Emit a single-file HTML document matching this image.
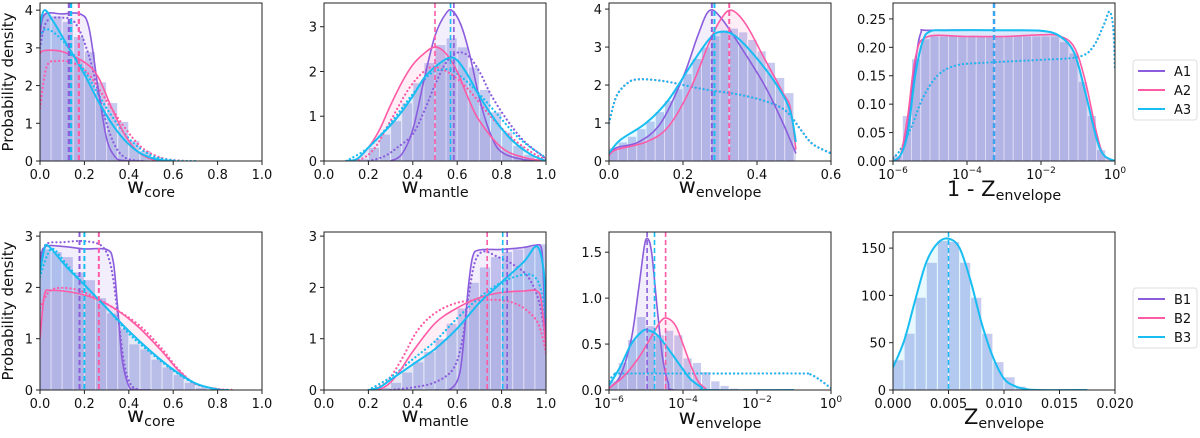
<!DOCTYPE html>
<html><head><meta charset="utf-8">
<style>
html,body{margin:0;padding:0;background:#fff;}
svg{display:block;font-family:"DejaVu Sans","Liberation Sans",sans-serif;}
</style></head>
<body>
<svg id="fig" width="1200" height="438" viewBox="0 0 1200 438" xmlns="http://www.w3.org/2000/svg"></svg>
<script>
// ---------- DATA ----------
const pA1_hist = [3.9,3.85,3.7,3.3,2.9,2.1,1.55,1.05,0.55,0.28,0.12,0.05,0.02];
const pA1_a1 = [[0,3.3],[0.02,3.88],[0.1,3.9],[0.18,3.9],[0.22,3.55],[0.26,2.0],[0.3,0.6],[0.34,0.1],[0.38,0.01],[0.47,0]];
const pA1_a1d = [[0,3.0],[0.03,3.7],[0.1,3.8],[0.16,3.65],[0.22,2.8],[0.28,1.4],[0.33,0.5],[0.38,0.1],[0.45,0]];
const pA1_a2 = [[0,2.85],[0.02,2.93],[0.1,2.9],[0.2,2.62],[0.26,2.25],[0.32,1.45],[0.38,0.72],[0.44,0.25],[0.5,0.05],[0.56,0]];
const pA1_a2d = [[0,1.4],[0.03,2.5],[0.08,2.65],[0.15,2.6],[0.22,2.3],[0.3,1.6],[0.38,0.9],[0.46,0.35],[0.55,0.08],[0.65,0]];
const pA1_a3 = [[0,3.6],[0.02,4.0],[0.06,3.7],[0.12,3.1],[0.2,2.3],[0.28,1.4],[0.36,0.7],[0.44,0.25],[0.52,0.05],[0.6,0]];
const pA1_a3d = [[0,3.3],[0.03,3.5],[0.1,3.2],[0.2,2.4],[0.3,1.4],[0.4,0.6],[0.5,0.15],[0.6,0.02],[0.7,0]];
const pA1_vl = [0.13,0.175,0.14];
const pA2_hist = [0,0,0,0.05,0.3,0.6,0.9,1.3,1.75,2.2,2.6,2.75,2.55,2.1,1.6,1.1,0.65,0.35,0.15,0.05];
const pA2_a1 = [[0.3,0],[0.35,0.15],[0.4,0.7],[0.45,1.8],[0.5,2.8],[0.55,3.3],[0.58,3.35],[0.62,3.0],[0.66,2.3],[0.7,1.4],[0.75,0.6],[0.8,0.2],[0.9,0.03],[1,0]];
const pA2_a1d = [[0.2,0],[0.27,0.1],[0.33,0.3],[0.4,0.6],[0.45,1.1],[0.5,1.7],[0.55,2.2],[0.6,2.42],[0.65,2.35],[0.7,2.0],[0.75,1.5],[0.82,0.95],[0.9,0.45],[1,0.05]];
const pA2_a2 = [[0.1,0],[0.15,0.05],[0.2,0.3],[0.25,0.7],[0.3,1.25],[0.35,1.75],[0.4,2.15],[0.45,2.4],[0.5,2.55],[0.55,2.4],[0.6,2.0],[0.65,1.4],[0.7,0.9],[0.8,0.3],[0.9,0.08],[1,0]];
const pA2_a2d = [[0.1,0],[0.17,0.05],[0.23,0.3],[0.3,0.9],[0.38,1.6],[0.45,2.0],[0.5,2.1],[0.57,1.95],[0.65,1.6],[0.75,1.0],[0.85,0.5],[0.95,0.15],[1,0.05]];
const pA2_a3 = [[0.1,0],[0.15,0.05],[0.2,0.3],[0.25,0.55],[0.3,0.8],[0.35,1.1],[0.4,1.45],[0.45,1.85],[0.5,2.1],[0.56,2.3],[0.6,2.25],[0.65,1.9],[0.7,1.45],[0.78,0.85],[0.85,0.45],[0.93,0.15],[1,0]];
const pA2_a3d = [[0.1,0],[0.2,0.3],[0.3,0.85],[0.4,1.5],[0.48,1.95],[0.55,2.05],[0.6,1.95],[0.68,1.6],[0.78,1.05],[0.88,0.5],[1,0.07]];
const pA2_vl = [0.585,0.5,0.57];
const pA3_hist = [0.35,0.5,0.65,0.85,1.05,1.3,1.6,1.9,2.3,2.7,3.0,3.3,3.45,3.5,3.4,3.2,2.9,2.6,2.2,1.8];
const pA3_a1 = [[0,0.15],[0.02,0.35],[0.08,0.5],[0.14,1.0],[0.2,2.2],[0.24,3.3],[0.27,3.95],[0.3,3.8],[0.35,3.1],[0.42,2.0],[0.47,1.0],[0.505,0.2]];
const pA3_a2 = [[0,0.15],[0.02,0.3],[0.1,0.5],[0.16,0.9],[0.22,1.9],[0.27,3.1],[0.3,3.7],[0.33,3.97],[0.37,3.6],[0.42,2.7],[0.47,1.8],[0.49,1.4],[0.505,0.3]];
const pA3_a3 = [[0,0.2],[0.03,0.55],[0.1,1.0],[0.16,1.6],[0.22,2.5],[0.27,3.2],[0.3,3.4],[0.34,3.3],[0.4,2.7],[0.46,1.9],[0.49,1.3],[0.505,0.5]];
const pA3_dot = [[0,1.0],[0.02,1.7],[0.05,2.05],[0.08,2.15],[0.15,2.1],[0.25,1.9],[0.35,1.75],[0.43,1.55],[0.48,1.3],[0.52,0.8],[0.55,0.45],[0.6,0.2]];
const pA3_vl = [0.278,0.325,0.285];
const pA4_hist = [0.01,0.08,0.18,0.215,0.22,0.22,0.22,0.22,0.22,0.22,0.22,0.22,0.22,0.22,0.22,0.22,0.22,0.22,0.21,0.19,0.14,0.08,0.02,0];
const pA4_a1 = [[-6,0],[-5.8,0.01],[-5.6,0.06],[-5.4,0.17],[-5.25,0.225],[-5,0.23],[-3,0.23],[-2,0.229],[-1.5,0.22],[-1.1,0.19],[-0.8,0.12],[-0.5,0.04],[-0.3,0.01],[0,0]];
const pA4_a2 = [[-6,0],[-5.8,0.01],[-5.6,0.08],[-5.4,0.18],[-5.1,0.218],[-4,0.219],[-3,0.219],[-2,0.222],[-1.5,0.22],[-1.1,0.2],[-0.8,0.14],[-0.5,0.05],[-0.3,0.01],[0,0]];
const pA4_a3 = [[-6,0],[-5.8,0.01],[-5.6,0.05],[-5.4,0.15],[-5.2,0.21],[-5,0.228],[-4.5,0.23],[-3,0.23],[-2,0.229],[-1.5,0.22],[-1.1,0.19],[-0.8,0.12],[-0.5,0.04],[-0.3,0.01],[0,0]];
const pA4_dot = [[-6,0.005],[-5.8,0.02],[-5.5,0.06],[-5.2,0.11],[-4.8,0.15],[-4.3,0.168],[-3.5,0.173],[-2,0.178],[-1,0.183],[-0.6,0.2],[-0.3,0.24],[-0.15,0.263],[-0.05,0.235],[0,0.16]];
const pA4_vl = [-3.27,-3.27,-3.27];
const pB1_hist = [2.75,2.7,2.6,2.3,2.15,1.8,1.5,1.2,0.9,0.8,0.6,0.45,0.3,0.15,0.05,0.02];
const pB1_b1 = [[0,2.4],[0.02,2.78],[0.1,2.8],[0.2,2.75],[0.3,2.74],[0.33,2.5],[0.35,1.6],[0.37,0.6],[0.4,0.08],[0.43,0.01],[0.5,0]];
const pB1_b1d = [[0,2.6],[0.03,2.85],[0.1,2.88],[0.2,2.9],[0.28,2.8],[0.32,2.4],[0.35,1.5],[0.38,0.5],[0.41,0.1],[0.45,0]];
const pB1_b2 = [[0,1.0],[0.02,1.85],[0.05,1.94],[0.15,1.9],[0.25,1.78],[0.35,1.55],[0.45,1.2],[0.55,0.75],[0.62,0.4],[0.7,0.12],[0.8,0.02],[0.85,0]];
const pB1_b2d = [[0,1.6],[0.05,1.95],[0.15,1.97],[0.25,1.8],[0.35,1.55],[0.45,1.25],[0.55,0.8],[0.62,0.42],[0.7,0.12],[0.8,0.02],[0.88,0]];
const pB1_b3 = [[0,2.3],[0.02,2.75],[0.04,2.8],[0.12,2.4],[0.2,2.05],[0.3,1.6],[0.4,1.15],[0.5,0.75],[0.6,0.4],[0.7,0.13],[0.8,0.01],[0.85,0]];
const pB1_b3d = [[0,2.2],[0.03,2.6],[0.06,2.75],[0.12,2.45],[0.2,2.05],[0.3,1.6],[0.4,1.1],[0.5,0.72],[0.6,0.38],[0.7,0.12],[0.8,0.01],[0.85,0]];
const pB1_vl = [0.178,0.265,0.2];
const pB2_hist = [0,0,0,0,0,0.05,0.15,0.35,0.55,0.75,1.0,1.3,1.6,2.1,2.4,2.6,2.7,2.75,2.8,2.85];
const pB2_b1 = [[0.5,0],[0.57,0.02],[0.61,0.3],[0.63,1.0],[0.65,2.0],[0.67,2.6],[0.7,2.73],[0.8,2.74],[0.9,2.78],[0.95,2.82],[0.98,2.75],[0.99,2.0],[1,0.9]];
const pB2_b1d = [[0.3,0],[0.4,0.05],[0.5,0.15],[0.58,0.4],[0.62,0.9],[0.65,1.8],[0.68,2.5],[0.72,2.7],[0.78,2.6],[0.85,2.45],[0.92,2.2],[0.97,1.7],[1,0.9]];
const pB2_b2 = [[0.2,0],[0.27,0.05],[0.33,0.3],[0.4,0.75],[0.5,1.3],[0.6,1.6],[0.7,1.8],[0.8,1.9],[0.9,1.93],[0.96,1.93],[0.98,1.7],[1,0.8]];
const pB2_b2d = [[0.2,0],[0.28,0.15],[0.35,0.6],[0.42,1.15],[0.5,1.5],[0.6,1.7],[0.7,1.75],[0.8,1.75],[0.88,1.65],[0.95,1.4],[0.98,1.1],[1,0.7]];
const pB2_b3 = [[0.2,0],[0.25,0.05],[0.3,0.2],[0.4,0.5],[0.5,0.8],[0.6,1.2],[0.7,1.7],[0.8,2.1],[0.9,2.5],[0.96,2.8],[0.99,2.3],[1,1.4]];
const pB2_b3d = [[0.2,0],[0.3,0.25],[0.4,0.6],[0.5,0.95],[0.6,1.4],[0.7,1.8],[0.8,2.1],[0.9,2.25],[0.95,2.2],[0.98,1.9],[1,1.2]];
const pB2_vl = [0.825,0.735,0.805];
const pB3_hist = [0.1,0.3,0.55,0.8,0.7,0.6,0.65,0.6,0.35,0.3,0.2,0.1,0.05,0.02];
const pB3_b1 = [[-6,0.02],[-5.7,0.15],[-5.4,0.55],[-5.2,1.1],[-5.05,1.55],[-4.96,1.65],[-4.85,1.5],[-4.7,0.9],[-4.55,0.35],[-4.4,0.08],[-4.25,0],[-3,0]];
const pB3_b2 = [[-6,0.02],[-5.6,0.15],[-5.2,0.35],[-4.9,0.55],[-4.6,0.75],[-4.42,0.78],[-4.2,0.7],[-4,0.5],[-3.8,0.28],[-3.6,0.1],[-3.4,0.02],[-3.2,0],[-1,0]];
const pB3_b3 = [[-6,0.05],[-5.7,0.25],[-5.4,0.5],[-5.1,0.64],[-4.94,0.65],[-4.7,0.6],[-4.4,0.45],[-4.1,0.28],[-3.8,0.12],[-3.5,0.03],[-3.3,0],[-1,0]];
const pB3_dot = [[-6,0.1],[-5.85,0.17],[-5.6,0.18],[-3,0.18],[-0.8,0.18],[-0.55,0.17],[-0.3,0.11],[-0.1,0.05],[0,0.02]];
const pB3_vl = [-4.97,-4.47,-4.77];
const pB4_hist = [32,60,98,135,158,157,135,98,60,30,14,4,1,0.5];
const pB4_curve = [[0,24],[0.001,52],[0.002,95],[0.003,135],[0.004,155],[0.005,160],[0.006,150],[0.007,115],[0.008,70],[0.009,35],[0.01,12],[0.011,4],[0.012,1],[0.013,0],[0.0175,0]];
const pB4_vl = [0.005];
const ticks01 = [0,0.2,0.4,0.6,0.8,1.0];
const ticksEnv = [0,0.2,0.4,0.6];
const ticksLog = [-6,-4,-2,0];
const ticksZ = [0,0.005,0.01,0.015,0.02];
const yT4 = [0,1,2,3,4], yT3 = [0,1,2,3], yTz = [0,0.05,0.10,0.15,0.20,0.25], yTb3=[0,0.5,1.0,1.5], yTb4=[0,50,100,150];

// ---------- DRAW ----------
const NS="http://www.w3.org/2000/svg";
const svg=document.getElementById('fig');
const C1='#8b5ddd', C2='#ff5aa5', C3='#18bdf2';
function mk(tag,at,parent){const e=document.createElementNS(NS,tag);for(const k in at)e.setAttribute(k,at[k]);(parent||svg).appendChild(e);return e;}
function smooth(pts){let d='M'+pts[0][0].toFixed(1)+','+pts[0][1].toFixed(1);
 for(let i=0;i<pts.length-1;i++){const p0=pts[Math.max(0,i-1)],p1=pts[i],p2=pts[i+1],p3=pts[Math.min(pts.length-1,i+2)];
  const c1=[p1[0]+(p2[0]-p0[0])/6,p1[1]+(p2[1]-p0[1])/6],c2=[p2[0]-(p3[0]-p1[0])/6,p2[1]-(p3[1]-p1[1])/6];
  d+=' C'+c1.map(v=>v.toFixed(1))+' '+c2.map(v=>v.toFixed(1))+' '+p2.map(v=>v.toFixed(1));}
 return d;}
function fmt(v,dec){return v.toFixed(dec);}

function panel(o){
 const g=mk('g',{});
 
 
 const X=v=>o.x+(v-o.xmin)/(o.xmax-o.xmin)*o.w;
 const Y=v=>o.y+o.h-Math.max(0,v)/o.ymax*o.h;
 const clip='c'+o.name; const cp=mk('clipPath',{id:clip},g); mk('rect',{x:o.x,y:o.y,width:o.w,height:o.h},cp);
 const inner=mk('g',{'clip-path':'url(#'+clip+')'},g);
 o.hist.forEach((h,i)=>{const x0=X(o.hx0+i*o.hw),x1=X(o.hx0+(i+1)*o.hw);
  const r=mk('rect',{x:x0,y:Y(h),width:Math.max(0,x1-x0),height:Y(0)-Y(h),fill:'#c7cbef',stroke:'#ffffff','stroke-width':1},inner);
  
  });
 (o.solid||[]).forEach(s=>{const pts=s.d.map(p=>[X(p[0]),Y(p[1])]);
  const f=mk('path',{d:smooth(pts)+' L'+pts[pts.length-1][0]+','+Y(0)+' L'+pts[0][0]+','+Y(0)+'Z',fill:s.c,'fill-opacity':0.1,stroke:'none'},inner);
  
  });
 (o.dotted||[]).forEach(s=>{const pts=s.d.map(p=>[X(p[0]),Y(p[1])]);
  const l=mk('path',{d:smooth(pts),fill:'none',stroke:s.c,'stroke-width':2.2,'stroke-dasharray':'0.1 4','stroke-linecap':'round'},inner);
  
  });
 (o.solid||[]).forEach(s=>{const pts=s.d.map(p=>[X(p[0]),Y(p[1])]);
  const l=mk('path',{d:smooth(pts),fill:'none',stroke:s.c,'stroke-width':s.sw||1.6},inner);
  
  });
 o.vl.forEach((v,i)=>{const l=mk('line',{x1:X(v),x2:X(v),y1:o.y,y2:o.y+o.h,stroke:o.vc[i],'stroke-width':o.vw||1.6,'stroke-dasharray':'5 3'},inner);
  
  });
 mk('rect',{x:o.x,y:o.y,width:o.w,height:o.h,fill:'none',stroke:'#222','stroke-width':1},g);
 o.xt.forEach(t=>{const x=X(t);mk('line',{x1:x,x2:x,y1:o.y+o.h,y2:o.y+o.h+4,stroke:'#222'},g);
  const tx=mk('text',{x:x,y:o.y+o.h+18,'font-size':13,'text-anchor':'middle',fill:'#111'},g);
  
  
  if(o.log){tx.textContent='10';const s=mk('tspan',{dy:-6,'font-size':9},tx);s.textContent=(t<0?'−':'')+Math.abs(t);}
  else tx.textContent=fmt(t,o.xd);});
 o.yt.forEach(t=>{const y=Y(t);mk('line',{x1:o.x-4,x2:o.x,y1:y,y2:y,stroke:'#222'},g);
  const tx=mk('text',{x:o.x-7,y:y+5,'font-size':13,'text-anchor':'end',fill:'#111'},g);
  
  
  tx.textContent=fmt(t,o.yd);});
 const xl=mk('text',{x:o.x+o.w/2,y:o.y+o.h+o.lab.dy,'font-size':o.lab.fs,'text-anchor':'middle',fill:'#111'},g);
 
 
 xl.appendChild(document.createTextNode(o.lab.main));
 const sb=mk('tspan',{dy:4,'font-size':o.lab.fs*0.68},xl); sb.textContent=o.lab.sub;
}
const X0=[40,324,609,893], W=222, R1=3, R2=232, H=158;
const vc3=[C1,C2,C3];
panel({name:'panel-a-core',x:X0[0],y:R1,w:W,h:H,xmin:0,xmax:1,ymax:4.19,hx0:0,hw:0.05,hist:pA1_hist,
 dotted:[{n:'a1',c:C1,d:pA1_a1d},{n:'a2',c:C2,d:pA1_a2d},{n:'a3',c:C3,d:pA1_a3d}],
 solid:[{n:'a1',c:C1,d:pA1_a1},{n:'a2',c:C2,d:pA1_a2},{n:'a3',c:C3,d:pA1_a3,sw:2}],
 vl:pA1_vl,vc:vc3,vw:2.2,xt:ticks01,xd:1,yt:yT4,yd:0,lab:{main:'w',sub:'core',fs:21,dy:32}});
panel({name:'panel-a-mantle',x:X0[1],y:R1,w:W,h:H,xmin:0,xmax:1,ymax:3.53,hx0:0,hw:0.05,hist:pA2_hist,
 dotted:[{n:'a1',c:C1,d:pA2_a1d},{n:'a2',c:C2,d:pA2_a2d},{n:'a3',c:C3,d:pA2_a3d}],
 solid:[{n:'a1',c:C1,d:pA2_a1},{n:'a2',c:C2,d:pA2_a2},{n:'a3',c:C3,d:pA2_a3,sw:2}],
 vl:pA2_vl,vc:vc3,xt:ticks01,xd:1,yt:yT3,yd:0,lab:{main:'w',sub:'mantle',fs:21,dy:32}});
panel({name:'panel-a-envelope',x:X0[2],y:R1,w:W,h:H,xmin:0,xmax:0.6,ymax:4.16,hx0:0,hw:0.025,hist:pA3_hist,
 dotted:[{n:'a1',c:C1,d:pA3_dot},{n:'a2',c:C2,d:pA3_dot},{n:'a3',c:C3,d:pA3_dot}],
 solid:[{n:'a1',c:C1,d:pA3_a1},{n:'a2',c:C2,d:pA3_a2},{n:'a3',c:C3,d:pA3_a3,sw:2}],
 vl:pA3_vl,vc:vc3,vw:2,xt:ticksEnv,xd:1,yt:yT4,yd:0,lab:{main:'w',sub:'envelope',fs:21,dy:32}});
panel({name:'panel-a-one-minus-z',x:X0[3],y:R1,w:W,h:H,xmin:-6,xmax:0,ymax:0.278,hx0:-6,hw:0.25,hist:pA4_hist,log:true,
 dotted:[{n:'a2',c:C2,d:pA4_dot},{n:'a3',c:C3,d:pA4_dot}],
 solid:[{n:'a1',c:C1,d:pA4_a1},{n:'a2',c:C2,d:pA4_a2},{n:'a3',c:C3,d:pA4_a3,sw:2}],
 vl:pA4_vl,vc:['#5f8ee8','#5f8ee8','#3aa4f0'],vw:2.2,xt:ticksLog,yt:yTz,yd:2,lab:{main:'1 - Z',sub:'envelope',fs:21,dy:35}});
panel({name:'panel-b-core',x:X0[0],y:R2,w:W,h:H,xmin:0,xmax:1,ymax:3.08,hx0:0,hw:0.05,hist:pB1_hist,
 dotted:[{n:'b1',c:C1,d:pB1_b1d},{n:'b2',c:C2,d:pB1_b2d},{n:'b3',c:C3,d:pB1_b3d}],
 solid:[{n:'b1',c:C1,d:pB1_b1},{n:'b2',c:C2,d:pB1_b2},{n:'b3',c:C3,d:pB1_b3,sw:2}],
 vl:pB1_vl,vc:vc3,vw:2,xt:ticks01,xd:1,yt:yT3,yd:0,lab:{main:'w',sub:'core',fs:21,dy:32}});
panel({name:'panel-b-mantle',x:X0[1],y:R2,w:W,h:H,xmin:0,xmax:1,ymax:3.08,hx0:0,hw:0.05,hist:pB2_hist,
 dotted:[{n:'b1',c:C1,d:pB2_b1d},{n:'b2',c:C2,d:pB2_b2d},{n:'b3',c:C3,d:pB2_b3d}],
 solid:[{n:'b1',c:C1,d:pB2_b1},{n:'b2',c:C2,d:pB2_b2},{n:'b3',c:C3,d:pB2_b3,sw:2}],
 vl:pB2_vl,vc:vc3,xt:ticks01,xd:1,yt:yT3,yd:0,lab:{main:'w',sub:'mantle',fs:21,dy:32}});
panel({name:'panel-b-envelope',x:X0[2],y:R2,w:W,h:H,xmin:-6,xmax:0,ymax:1.72,hx0:-6,hw:0.25,hist:pB3_hist,log:true,
 dotted:[{n:'b2',c:C2,d:pB3_dot},{n:'b3',c:C3,d:pB3_dot}],
 solid:[{n:'b1',c:C1,d:pB3_b1},{n:'b2',c:C2,d:pB3_b2},{n:'b3',c:C3,d:pB3_b3,sw:2}],
 vl:pB3_vl,vc:vc3,xt:ticksLog,yt:yTb3,yd:1,lab:{main:'w',sub:'envelope',fs:21,dy:34}});
panel({name:'panel-b-z-envelope',x:X0[3],y:R2,w:W,h:H,xmin:0,xmax:0.02,ymax:167,hx0:0,hw:0.001,hist:pB4_hist,
 solid:[{n:'b3',c:C3,d:pB4_curve,sw:2}],
 vl:pB4_vl,vc:[C3],xt:ticksZ,xd:3,yt:yTb4,yd:0,lab:{main:'Z',sub:'envelope',fs:21,dy:34}});

[82,311].forEach((cy,i)=>{const t=mk('text',{x:0,y:0,'font-size':15,'text-anchor':'middle',fill:'#111',transform:'translate(13,'+cy+') rotate(-90)'});
 
 
 t.textContent='Probability density';});

function legend(y0,labels,name){const g=mk('g',{});
 
 
 mk('rect',{x:1133,y:y0,width:64,height:60,rx:3,fill:'#fff',stroke:'#ddd'},g);
 [C1,C2,C3].forEach((c,i)=>{const yy=y0+11+i*19;
  mk('line',{x1:1138,x2:1165,y1:yy,y2:yy,stroke:c,'stroke-width':2},g);
  const t=mk('text',{x:1174,y:yy+5,'font-size':13,fill:'#111'},g);
  
  
  t.textContent=labels[i];});}
legend(60,['A1','A2','A3'],'legend-a');
legend(288,['B1','B2','B3'],'legend-b');
</script>
</body></html>
